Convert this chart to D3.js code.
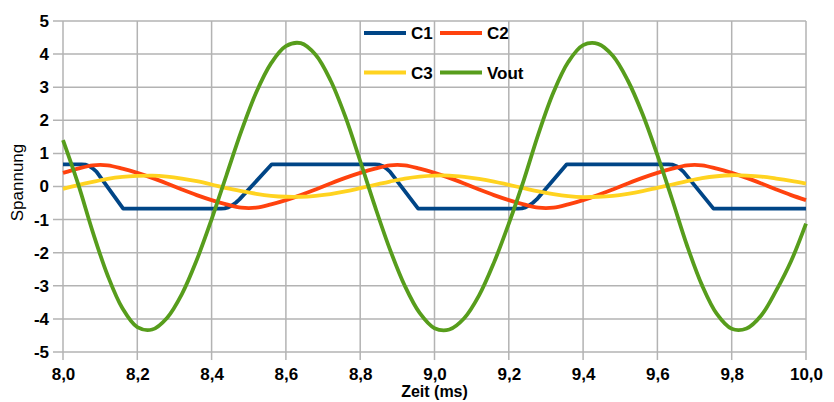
<!DOCTYPE html>
<html>
<head>
<meta charset="utf-8">
<script src="https://cdn.jsdelivr.net/npm/d3@7"></script>
<style>
    body { margin: 0; background: #fff; }
    svg text { font-family: "Liberation Sans", Arial, sans-serif; fill: #000; }
</style>
</head>
<body>
<div id="chart"></div>
<script>
const width = 834;
const height = 402;
const margin = { top: 21, right: 28, bottom: 50, left: 63 };

// sample times (ms) for C2, C3, Vout
const time = [8.00, 8.04, 8.08, 8.12, 8.16, 8.20, 8.24, 8.28, 8.32, 8.36,
    8.40, 8.44, 8.48, 8.52, 8.56, 8.60, 8.64, 8.68, 8.72, 8.76,
    8.80, 8.84, 8.88, 8.92, 8.96, 9.00, 9.04, 9.08, 9.12, 9.16,
    9.20, 9.24, 9.28, 9.32, 9.36, 9.40, 9.44, 9.48, 9.52, 9.56,
    9.60, 9.64, 9.68, 9.72, 9.76, 9.80, 9.84, 9.88, 9.92, 9.96, 10.00];

const c2Values = [0.41, 0.54, 0.64, 0.64, 0.54, 0.41, 0.26, 0.09, -0.09, -0.26,
    -0.41, -0.54, -0.64, -0.64, -0.54, -0.41, -0.26, -0.09, 0.09, 0.26,
    0.41, 0.54, 0.64, 0.64, 0.54, 0.41, 0.26, 0.09, -0.09, -0.26,
    -0.41, -0.54, -0.64, -0.64, -0.54, -0.41, -0.26, -0.09, 0.09, 0.26,
    0.41, 0.54, 0.64, 0.64, 0.54, 0.41, 0.26, 0.09, -0.09, -0.26, -0.41];

const c3Values = [-0.07, 0.04, 0.14, 0.23, 0.29, 0.32, 0.33, 0.30, 0.24, 0.16,
    0.06, -0.05, -0.14, -0.22, -0.28, -0.31, -0.31, -0.28, -0.23, -0.15,
    -0.05, 0.05, 0.15, 0.24, 0.30, 0.33, 0.33, 0.29, 0.23, 0.15,
    0.05, -0.05, -0.15, -0.23, -0.29, -0.32, -0.31, -0.28, -0.22, -0.14,
    -0.04, 0.06, 0.16, 0.25, 0.31, 0.34, 0.33, 0.30, 0.24, 0.17, 0.09];

const voutValues = [1.40, 0.10, -1.37, -2.68, -3.68, -4.25, -4.32, -3.97, -3.25, -2.22,
    -0.99, 0.34, 1.67, 2.84, 3.72, 4.24, 4.33, 3.98, 3.21, 2.11,
    0.77, -0.61, -1.90, -3.00, -3.82, -4.28, -4.32, -3.98, -3.29, -2.30,
    -1.12, 0.18, 1.60, 2.84, 3.76, 4.27, 4.31, 3.95, 3.21, 2.19,
    0.95, -0.40, -1.79, -2.98, -3.85, -4.30, -4.29, -3.89, -3.14, -2.25, -1.12];

// C1 is clipped, so it gets its own breakpoints
const c1Time = [8.00, 8.05, 8.06, 8.07, 8.08, 8.09, 8.162,
    8.425, 8.435, 8.445, 8.455, 8.465, 8.475, 8.562,
    8.84, 8.85, 8.86, 8.87, 8.88, 8.956,
    9.225, 9.235, 9.245, 9.255, 9.265, 9.275, 9.356,
    9.63, 9.64, 9.65, 9.66, 9.67, 9.751, 10.00];
const c1Values = [0.67, 0.67, 0.66, 0.62, 0.55, 0.45, -0.67,
    -0.67, -0.66, -0.63, -0.57, -0.49, -0.39, 0.67,
    0.67, 0.66, 0.62, 0.55, 0.45, -0.67,
    -0.67, -0.66, -0.63, -0.57, -0.49, -0.39, 0.67,
    0.67, 0.66, 0.62, 0.55, 0.45, -0.67, -0.67];

const xTicks = [8.0, 8.2, 8.4, 8.6, 8.8, 9.0, 9.2, 9.4, 9.6, 9.8, 10.0];
const yTicks = [-5, -4, -3, -2, -1, 0, 1, 2, 3, 4, 5];

const seriesNames = ["C1", "C2", "C3", "Vout"];
const colors = ["#004586", "#ff420e", "#ffd320", "#579d1c"];

const svg = d3.select("#chart")
    .append("svg")
    .attr("width", width)
    .attr("height", height);

const x = d3.scaleLinear().domain([8, 10]).range([margin.left, width - margin.right]);
const y = d3.scaleLinear().domain([-5, 5]).range([height - margin.bottom, margin.top]);

// grid
const grid = svg.append("g")
    .style("stroke", "#b3b3b3")
    .style("stroke-width", 1.5);

grid.selectAll(".hgrid")
    .data(yTicks)
    .enter()
    .append("line")
    .attr("x1", x(8) - 10)
    .attr("x2", x(10))
    .attr("y1", d => y(d))
    .attr("y2", d => y(d));

grid.selectAll(".vgrid")
    .data(xTicks)
    .enter()
    .append("line")
    .attr("x1", d => x(d))
    .attr("x2", d => x(d))
    .attr("y1", y(5))
    .attr("y2", y(-5) + 8);

// axes (labels only)
svg.append("g")
    .attr("transform", `translate(0,${y(-5)})`)
    .call(d3.axisBottom(x).tickValues(xTicks).tickSize(0).tickPadding(16)
        .tickFormat(d => d3.format(".1f")(d).replace(".", ",")));

svg.append("g")
    .attr("transform", `translate(${x(8)},0)`)
    .call(d3.axisLeft(y).tickValues(yTicks).tickSize(0).tickPadding(14)
        .tickFormat(d => d < 0 ? "-" + Math.abs(d) : String(d)));

svg.selectAll(".domain").remove();
svg.selectAll(".tick text")
    .style("font-family", "'Liberation Sans', Arial, sans-serif")
    .style("font-size", "17px")
    .style("font-weight", "bold")
    .attr("fill", "#000");

// axis titles
svg.append("text")
    .attr("x", (x(8) + x(10)) / 2)
    .attr("y", 397)
    .attr("text-anchor", "middle")
    .style("font-size", "16px")
    .style("font-weight", "bold")
    .text("Zeit (ms)");

svg.append("text")
    .attr("transform", `translate(23,${y(0) - 4}) rotate(-90)`)
    .attr("text-anchor", "middle")
    .style("font-size", "17px")
    .text("Spannung");

// series
const line = d3.line()
    .x(d => x(d[0]))
    .y(d => y(d[1]));

const series = [
    { name: "C1", points: d3.zip(c1Time, c1Values), curve: d3.curveLinear },
    { name: "C2", points: d3.zip(time, c2Values), curve: d3.curveCatmullRom },
    { name: "C3", points: d3.zip(time, c3Values), curve: d3.curveCatmullRom },
    { name: "Vout", points: d3.zip(time, voutValues), curve: d3.curveCatmullRom }
];

svg.append("g")
    .selectAll("path")
    .data(series)
    .enter()
    .append("path")
    .attr("d", d => line.curve(d.curve)(d.points))
    .style("fill", "none")
    .style("stroke", (d, i) => colors[i])
    .style("stroke-width", 3.8)
    .style("stroke-linejoin", "round");

// legend, 2 x 2
const legendItem = svg.append("g")
    .selectAll("g")
    .data(seriesNames)
    .enter()
    .append("g")
    .attr("transform", (d, i) => `translate(${364 + (i % 2) * 76},${33 + Math.floor(i / 2) * 39.5})`);

legendItem.append("line")
    .attr("x1", 0)
    .attr("x2", 42)
    .style("stroke", (d, i) => colors[i])
    .style("stroke-width", 4);

legendItem.append("text")
    .attr("x", 47)
    .attr("dy", "0.36em")
    .style("font-size", "17px")
    .style("font-weight", "bold")
    .text(d => d);
</script>
</body>
</html>
